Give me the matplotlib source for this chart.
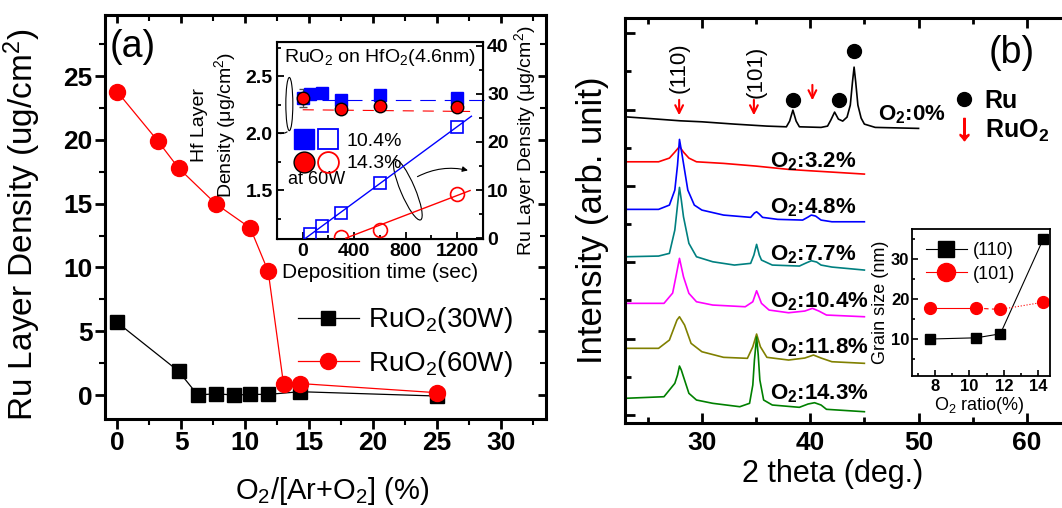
import numpy as np
import matplotlib.pyplot as plt
from matplotlib.patches import Ellipse
from matplotlib.lines import Line2D
from matplotlib.legend_handler import HandlerTuple
from matplotlib.ticker import MultipleLocator

plt.rcParams['font.family'] = ['Liberation Sans', 'DejaVu Sans']
plt.rcParams['mathtext.fontset'] = 'custom'
plt.rcParams['mathtext.rm'] = 'Liberation Sans'
plt.rcParams['mathtext.bf'] = 'Liberation Sans:bold'
plt.rcParams['mathtext.it'] = 'Liberation Sans:italic'
plt.rcParams['mathtext.default'] = 'regular'

# ---- (a) Ru layer density vs O2 ratio
o2_30w = [0, 4.8, 6.3, 7.7, 9.1, 10.4, 11.8, 14.3, 25]
dens_30w = [5.7, 1.87, 0.0, 0.1, 0.0, 0.05, 0.05, 0.26, -0.08]
o2_60w = [0, 3.2, 4.8, 7.7, 10.4, 11.8, 13.0, 14.3, 25]
dens_60w = [23.8, 19.9, 17.8, 15.0, 13.1, 9.7, 0.85, 0.9, 0.18]

# ---- (a) inset: Hf / Ru layer density vs deposition time
t_hf_b = [0, 60, 150, 300, 600, 1200]
hf_b = [2.31, 2.345, 2.355, 2.29, 2.335, 2.31]
hf_b_err = [0.08, 0.04, 0.02, 0.04, 0.02, 0.04]
t_hf_r = [0, 300, 600, 1200]
hf_r = [2.31, 2.215, 2.235, 2.225]
hf_r_err = [0.03, 0.03, 0.03, 0.02]
t_ru_b = [60, 150, 300, 600, 1200]
ru_b = [0.8, 2.5, 5.3, 11.4, 23.2]
t_ru_r = [300, 600, 1200]
ru_r = [0.3, 1.7, 9.2]
hf_avg_b = 2.295
hf_avg_r = 2.20

# ---- (b) XRD patterns (2theta, offset intensity in arb. unit)
tt_0 = [22.9, 25, 28, 30, 33, 36, 37.8, 38.1, 38.4, 38.7, 39.0, 41.0, 41.6, 41.9,
        42.25, 42.6, 43.0, 43.4, 43.7, 43.9, 44.05, 44.2, 44.4, 44.7, 45.0, 46, 50]
I_0 = [306.3, 304.7, 302.3, 301.3, 299, 297, 296.3, 302, 313, 302, 296.3, 295.7, 297, 303,
       311, 304, 302, 306, 318, 341, 356, 341, 318, 305, 299, 295.7, 294.7]
tt_32 = [22.9, 26, 27.0, 27.5, 27.93, 28.3, 28.8, 29.5, 32, 35, 38, 40, 42, 45]
I_32 = [261.3, 261.3, 265, 271, 276.5, 271, 265, 261.3, 259.7, 257, 253.7, 252.3, 251, 249]
tt_48 = [22.9, 26, 27, 27.5, 27.75, 27.93, 28.1, 28.3, 28.7, 29.3, 30, 32, 34.5, 34.85,
         35.05, 35.3, 35.6, 37, 39.3, 39.8, 40.1, 40.5, 41, 42, 45]
I_48 = [213.7, 213.7, 218, 233, 258, 283.7, 273, 259.7, 233, 218, 213, 208, 205.7, 210,
        211.3, 209, 205.7, 203.7, 203, 206, 208, 207, 203, 201.3, 201.3]
tt_77 = [22.9, 26, 27, 27.5, 27.75, 27.93, 28.1, 28.3, 28.8, 29.5, 31, 33, 34.5, 34.8,
         35.05, 35.3, 35.5, 36.5, 39, 39.6, 40.1, 40.6, 41, 42, 45]
I_77 = [166.3, 167, 169.7, 193, 218, 235.7, 223, 206.3, 179.7, 166.3, 161.3, 158, 159.7, 168,
        178.7, 168, 163, 158, 157, 160, 162.3, 161, 158, 156, 153]
tt_104 = [22.9, 26.5, 27.3, 27.6, 27.93, 28.3, 28.8, 29.5, 31, 34, 34.7, 35.05, 35.5, 36.2,
          38, 39.5, 40.2, 40.8, 41.5, 45]
I_104 = [119.7, 119.7, 130, 146.3, 164.7, 146.3, 129.7, 121.3, 118, 116.3, 121.3, 132.3, 119.7, 113,
         110.3, 112, 114.7, 112, 108, 106.3]
tt_118 = [22.9, 26, 27, 27.7, 27.93, 28.4, 29, 30, 32, 34.2, 34.7, 35.05, 35.4, 36,
          38, 39.5, 40.3, 41, 42, 45]
I_118 = [74.7, 74.7, 83, 103, 106.3, 98, 79.7, 71.3, 65.7, 64.7, 76.3, 89, 76.3, 65.7,
         63, 65, 68, 65, 61.3, 59.7]
tt_143 = [22.9, 26.5, 27.5, 27.75, 27.93, 28.1, 28.3, 28.8, 29.5, 31, 33.5, 34.4, 34.7, 34.85,
          35.05, 35.2, 35.35, 35.7, 36.5, 39, 39.8, 40.4, 41, 41.5, 45]
I_143 = [24.7, 26.3, 39.7, 48, 57, 53, 46.3, 29.7, 23, 19.7, 16.3, 19.7, 38, 63,
         86, 68, 43, 23, 18, 15.7, 19, 20.3, 18, 13.7, 11.3]
xrd_labels = ['O$_\\mathbf{2}$:0%', 'O$_\\mathbf{2}$:3.2%', 'O$_\\mathbf{2}$:4.8%', 'O$_\\mathbf{2}$:7.7%',
              'O$_\\mathbf{2}$:10.4%', 'O$_\\mathbf{2}$:11.8%', 'O$_\\mathbf{2}$:14.3%']
xrd_colors = ['black', '#ff0000', '#0000ff', '#008080', '#ff00ff', '#808000', '#008000']
label_tt = [46.25, 36.3, 36.3, 36.3, 36.3, 36.3, 36.3]
label_I = [308, 261, 215, 168, 121, 75, 29]
ru_peak_tt = [38.4, 42.7, 44.05]
ru_dot_I = [323, 323, 372]
ruo2_arrow_tt = [27.9, 34.8, 40.2]
ruo2_arrow_top = [326, 326, 341]
ruo2_arrow_bot = [305, 305, 320]

# ---- (b) inset: grain size
o2_gs = [7.7, 10.4, 11.8, 14.3]
gs_110 = [10.0, 10.3, 11.3, 35.0]
gs_101 = [17.7, 17.7, 17.4, 19.2]

fig = plt.figure(figsize=(10.62, 5.08), dpi=100)

# ================= panel (a)
ax = fig.add_axes([0.0989, 0.1752, 0.4153, 0.7953])
ax.plot(o2_30w, dens_30w, color='k', lw=0.9, marker='s', ms=10.5, label='RuO$_2$(30W)')
ax.plot(o2_60w, dens_60w, color='#ff0000', lw=0.9, marker='o', ms=11.5, label='RuO$_2$(60W)')
ax.set_xlim(-0.94, 33.5)
ax.set_ylim(-1.88, 29.8)
ax.set_xticks(range(0, 31, 5))
ax.set_yticks(range(0, 26, 5))
ax.xaxis.set_minor_locator(MultipleLocator(2.5))
ax.yaxis.set_minor_locator(MultipleLocator(2.5))
ax.tick_params(which='major', direction='out', length=7, width=2, labelsize=19, pad=2)
ax.tick_params(which='minor', direction='out', length=4, width=1.5)
for s in ax.spines.values():
    s.set_linewidth(2.2)
sx = ax.secondary_xaxis('top')
sx.set_xticks(range(0, 31, 5))
sx.xaxis.set_minor_locator(MultipleLocator(2.5))
sx.tick_params(which='both', direction='in', labeltop=False, width=2, length=6)
sx.tick_params(which='minor', length=4, width=1.5)
sy = ax.secondary_yaxis('right')
sy.set_yticks(range(0, 26, 5))
sy.yaxis.set_minor_locator(MultipleLocator(2.5))
sy.tick_params(which='both', direction='in', labelright=False, width=2, length=6)
sy.tick_params(which='minor', length=4, width=1.5)
ax.set_ylabel('Ru Layer Density (ug/cm$^2$)', fontsize=24)
ax.yaxis.set_label_coords(-0.141, 0.48)
ax.set_xlabel('O$_2$/[Ar+O$_2$] (%)', fontsize=21)
ax.xaxis.set_label_coords(0.515, -0.138)
ax.text(0.01, 0.92, '(a)', transform=ax.transAxes, fontsize=27, va='center')
ax.legend(loc='center left', bbox_to_anchor=(0.38, 0.19), frameon=False, fontsize=20,
          handlelength=2.2, handletextpad=0.35, labelspacing=0.5)

# ================= inset of (a)
ai = fig.add_axes([0.2608, 0.5295, 0.194, 0.3878])
ai.set_facecolor('white')
ai.errorbar(t_hf_b, hf_b, yerr=hf_b_err, fmt='s', color='#0000ff', ms=8, ecolor='0.3',
            elinewidth=0.8, capsize=3, zorder=3)
ai.errorbar(t_hf_r, hf_r, yerr=hf_r_err, fmt='o', mfc='#ff0000', mec='k', ms=9, ecolor='0.2',
            elinewidth=0.8, capsize=3, zorder=4)
ai.plot([150, 1430], [hf_avg_b, hf_avg_b], color='#0000ff', lw=0.8, dashes=(14, 8), clip_on=False)
ai.plot([0, 1300], [hf_avg_r + 0.005, hf_avg_r - 0.01], color='#ff0000', lw=0.8, dashes=(10, 8))
ai.set_xlim(-200, 1400)
ai.set_ylim(1.07, 2.80)
ai.set_xticks([0, 400, 800, 1200])
ai.set_yticks([1.5, 2.0, 2.5])
ai.xaxis.set_minor_locator(MultipleLocator(200))
ai.yaxis.set_minor_locator(MultipleLocator(0.25))
ai.tick_params(which='both', direction='in', labelsize=14, width=1.3, pad=3)
ai.tick_params(which='major', length=5)
ai.tick_params(which='minor', length=3)
for s in ai.spines.values():
    s.set_linewidth(1.5)
ai.set_xlabel('Deposition time (sec)', fontsize=15)
ai.xaxis.set_label_coords(0.5, -0.12)
ai.set_ylabel('Hf Layer\nDensity ($\\mu$g/cm$^2$)', fontsize=14, multialignment='center')
ai.yaxis.set_label_coords(-0.19, 0.58)
ai.text(0.5, 0.92, 'RuO$_2$ on HfO$_2$(4.6nm)', transform=ai.transAxes, fontsize=14,
        ha='center', va='center')

ar = ai.twinx()
ar.plot(t_ru_b, ru_b, 's', mfc='none', mec='#0000ff', ms=9, mew=1.2)
ar.plot(t_ru_r, ru_r, 'o', mfc='none', mec='#ff0000', ms=10, mew=1.2)
fit_b = np.polyfit(t_ru_b, ru_b, 1)
fit_r = np.polyfit(t_ru_r, ru_r, 1)
span_b = np.array([0, 1310])
span_r = np.array([335, 1300])
ar.plot(span_b, np.polyval(fit_b, span_b), color='#0000ff', lw=1)
ar.plot(span_r, np.polyval(fit_r, span_r), color='#ff0000', lw=1)
ar.set_ylim(-0.2, 40.8)
ar.set_yticks([0, 10, 20, 30, 40])
ar.yaxis.set_minor_locator(MultipleLocator(5))
ar.tick_params(which='both', direction='in', labelsize=14, width=1.3, pad=3)
ar.tick_params(which='major', length=5)
ar.tick_params(which='minor', length=3)
ar.set_ylabel('Ru Layer Density ($\\mu$g/cm$^2$)', fontsize=14)
ar.yaxis.set_label_coords(1.14, 0.5)

h_b = (Line2D([], [], ls='none', marker='s', color='#0000ff', ms=14),
       Line2D([], [], ls='none', marker='s', mfc='none', mec='#0000ff', ms=14, mew=1.3))
h_r = (Line2D([], [], ls='none', marker='o', mfc='#ff0000', mec='k', ms=15),
       Line2D([], [], ls='none', marker='o', mfc='none', mec='#ff0000', ms=15, mew=1.3))
ai.legend([h_b, h_r], ['10.4%', '14.3%'], handler_map={tuple: HandlerTuple(ndivide=None, pad=0.3)},
          loc='upper left', bbox_to_anchor=(0.0, 0.63), frameon=False, fontsize=14,
          handlelength=2.2, handletextpad=0.5, labelspacing=0.25)
ai.text(0.055, 0.30, 'at 60W', transform=ai.transAxes, fontsize=13, va='center')

ai.add_patch(Ellipse((0.06, 0.685), 0.034, 0.27, transform=ai.transAxes, fill=False,
                     ec='k', lw=0.8))
ai.annotate('', xy=(-0.005, 0.54), xytext=(0.06, 0.552), xycoords='axes fraction',
            arrowprops=dict(arrowstyle='-', color='k', lw=0.8, connectionstyle='arc3,rad=-0.3'))
ai.add_patch(Ellipse((0.635, 0.25), 0.07, 0.33, angle=22, transform=ai.transAxes, fill=False,
                     ec='k', lw=0.8))
ai.annotate('', xy=(0.94, 0.345), xytext=(0.67, 0.31), xycoords='axes fraction',
            arrowprops=dict(arrowstyle='-|>', color='k', lw=0.8, mutation_scale=8,
                            connectionstyle='arc3,rad=-0.2'))

# ================= panel (b)
bx = fig.add_axes([0.5885, 0.1673, 0.4284, 0.797])
curves = [(tt_0, I_0), (tt_32, I_32), (tt_48, I_48), (tt_77, I_77),
          (tt_104, I_104), (tt_118, I_118), (tt_143, I_143)]
for (tt, ii), c, lab, lx, ly in zip(curves, xrd_colors, xrd_labels, label_tt, label_I):
    bx.plot(tt, ii, color=c, lw=1.2)
    bx.text(lx, ly, lab, fontsize=16, fontweight='bold', va='center', ha='left')
bx.plot(ru_peak_tt, ru_dot_I, 'o', color='k', ms=10)
for x, y0, y1 in zip(ruo2_arrow_tt, ruo2_arrow_top, ruo2_arrow_bot):
    bx.annotate('', xy=(x, y1), xytext=(x, y0),
                arrowprops=dict(arrowstyle='->', color='#ff0000', lw=1.5, mutation_scale=14))
bx.text(27.9, 355, '(110)', rotation=90, fontsize=16, ha='center', va='center')
bx.text(35.05, 351, '(101)', rotation=90, fontsize=16, ha='center', va='center')
bx.text(0.80, 0.915, '(b)', transform=bx.transAxes, fontsize=27, va='center')
lh = [Line2D([], [], ls='none', marker='o', color='k', ms=10),
      Line2D([], [], ls='none', marker='$\\downarrow$', color='#ff0000', ms=16)]
bx.legend(lh, ['Ru', 'RuO$_\\mathbf{2}$'], loc='upper left', bbox_to_anchor=(0.67, 0.88),
          frameon=False, prop={'size': 18, 'weight': 'bold'}, handlelength=0.9,
          handletextpad=0.4, labelspacing=0.2)
bx.set_xlim(22.9, 64.9)
bx.set_ylim(0, 405)
bx.set_xticks([30, 40, 50, 60])
bx.xaxis.set_minor_locator(MultipleLocator(5))
bx.set_yticks(np.arange(8, 400, 76.4))
bx.set_yticks(np.arange(46.2, 400, 76.4), minor=True)
bx.tick_params(which='both', direction='in', top=True, right=True, labelleft=False,
               labelsize=19, width=2)
bx.tick_params(which='major', length=7, pad=6)
bx.tick_params(which='minor', length=4)
for s in bx.spines.values():
    s.set_linewidth(2.2)
bx.set_ylabel('Intensity (arb. unit)', fontsize=25)
bx.yaxis.set_label_coords(-0.035, 0.5)
bx.set_xlabel('2 theta (deg.)', fontsize=22)
bx.xaxis.set_label_coords(0.457, -0.09)

# ================= inset of (b)
bi = fig.add_axes([0.8588, 0.2598, 0.13, 0.2894])
bi.plot(o2_gs, gs_110, color='k', lw=0.8, marker='s', ms=7.5)
bi.plot(o2_gs, gs_101, ls='none', marker='o', color='#ff0000', ms=8.5)
bi.plot(o2_gs[:2], gs_101[:2], color='#ff0000', lw=0.8)
bi.plot(o2_gs[1:3], gs_101[1:3], color='#ff0000', lw=0.8, dashes=(4, 3))
bi.plot(o2_gs[2:], gs_101[2:], color='#ff0000', lw=0.8, ls=':')
bi.set_xlim(6.65, 14.7)
bi.set_ylim(0.75, 37.5)
bi.set_xticks([8, 10, 12, 14])
bi.set_yticks([10, 20, 30])
bi.xaxis.set_minor_locator(MultipleLocator(1))
bi.yaxis.set_minor_locator(MultipleLocator(5))
bi.tick_params(which='both', direction='in', labelsize=12, width=1.2, pad=2)
bi.tick_params(which='major', length=4)
bi.tick_params(which='minor', length=2.5)
for s in bi.spines.values():
    s.set_linewidth(1.3)
bi.set_ylabel('Grain size (nm)', fontsize=13)
bi.yaxis.set_label_coords(-0.17, 0.5)
bi.set_xlabel('O$_2$ ratio(%)', fontsize=13)
bi.xaxis.set_label_coords(0.49, -0.13)
gl = [Line2D([], [], color='k', lw=0.8, marker='s', ms=12),
      Line2D([], [], color='#ff0000', lw=0.8, marker='o', ms=13)]
bi.legend(gl, ['(110)', '(101)'], loc='upper left', bbox_to_anchor=(-0.02, 1.02), frameon=False,
          fontsize=13, handlelength=2.3, handletextpad=0.3, labelspacing=0.35)

# bold tick labels everywhere
for a in (ax, ai, ar, bx, bi):
    for t in a.get_xticklabels() + a.get_yticklabels():
        t.set_fontweight('bold')

fig.savefig('out.png', dpi=100)
